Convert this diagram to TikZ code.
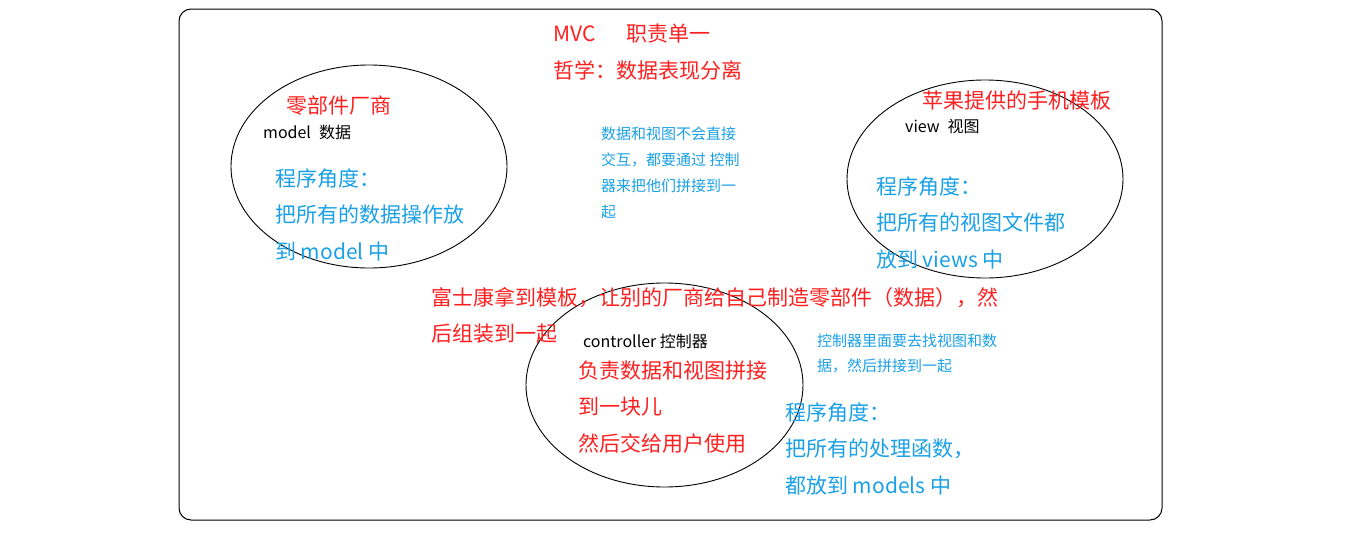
\documentclass[tikz,border=0pt]{standalone}
\usepackage{fontspec}
\setmainfont{Noto Sans CJK SC}
\usetikzlibrary{shapes.geometric}
\definecolor{tred}{HTML}{FF1F1F}
\definecolor{tblue}{HTML}{1AA0E6}
\begin{document}
\begin{tikzpicture}[x=1pt,y=-1pt,
  oval/.style={draw=black,line width=0.9pt,ellipse,inner sep=0pt},
  bigtxt/.style={font=\fontsize{21}{36.5}\selectfont,inner sep=0pt,anchor=base west,align=left},
  smalltxt/.style={font=\fontsize{15}{26}\selectfont,inner sep=0pt,anchor=base west,align=left,text=tblue},
  lbl/.style={font=\fontsize{16}{20}\selectfont,inner sep=0pt,anchor=base west,text=black}]
\useasboundingbox (0,0) rectangle (1360,546);
\draw[line width=1pt,rounded corners=12pt] (179,9) rectangle (1162,520);
% ellipses
\node[oval,minimum width=276pt,minimum height=203pt] (model) at (369,166.5) {};
\node[oval,minimum width=276pt,minimum height=198pt] (view) at (985,179) {};
\node[oval,minimum width=277pt,minimum height=204pt] (ctrl) at (664.5,385) {};
% title (anchors are at the baseline of the last line)
\node[bigtxt,text=tred,font=\fontsize{21}{37}\selectfont] (title) at (553,78) {MVC\hspace{31pt}职责单一\\哲学：数据表现分离};
% model
\node[bigtxt,text=tred] (mvendor) at (286,113) {零部件厂商};
\node[lbl] (mlabel) at (263,138) {model\hspace{8pt}数据};
\node[bigtxt,text=tblue] (mdesc) at (275,259) {程序角度：\\把所有的数据操作放\\到 model 中};
% middle note
\node[smalltxt] (note1) at (601,217) {数据和视图不会直接\\交互，都要通过 控制\\器来把他们拼接到一\\起};
% view
\node[bigtxt,text=tred] (vvendor) at (922,108) {苹果提供的手机模板};
\node[lbl] (vlabel) at (905,132) {view\hspace{8pt}视图};
\node[bigtxt,text=tblue] (vdesc) at (876,267) {程序角度：\\把所有的视图文件都\\放到 views 中};
% foxconn
\node[bigtxt,text=tred] (foxconn) at (431,341.5) {富士康拿到模板，让别的厂商给自己制造零部件（数据），然\\后组装到一起};
% controller
\node[lbl] (clabel) at (583,347) {controller 控制器};
\node[bigtxt,text=tred] (cdesc) at (578,451) {负责数据和视图拼接\\到一块儿\\然后交给用户使用};
\node[smalltxt,font=\fontsize{15}{25}\selectfont] (note2) at (817,371) {控制器里面要去找视图和数\\据，然后拼接到一起};
\node[bigtxt,text=tblue] (cprog) at (785,493) {程序角度：\\把所有的处理函数，\\都放到 models 中};
\end{tikzpicture}
\end{document}
